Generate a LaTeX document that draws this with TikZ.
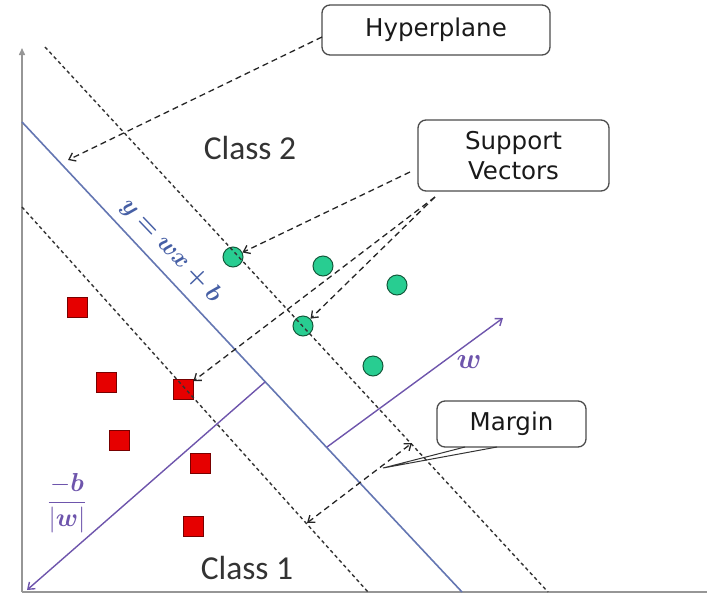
\documentclass[tikz,border=0pt]{standalone}
\usepackage{fontspec}
\usepackage{amsmath,bm,graphicx}
\usetikzlibrary{arrows.meta}
\newfontfamily\boxfont{DejaVu Sans}
\newfontfamily\classfont{Carlito}
\definecolor{hypblue}{RGB}{100,118,178}
\definecolor{hyptext}{RGB}{70,95,165}
\definecolor{purp}{RGB}{110,85,172}
\definecolor{svgreen}{RGB}{40,205,145}
\definecolor{svedge}{RGB}{20,90,60}
\definecolor{sqred}{RGB}{230,0,0}
\definecolor{sqedge}{RGB}{120,0,0}
\definecolor{axisgray}{RGB}{150,150,150}
\tikzset{
  svpt/.style={circle,draw=svedge,fill=svgreen,line width=1pt,minimum size=20pt,inner sep=0pt},
  sqpt/.style={rectangle,draw=sqedge,fill=sqred,line width=0.8pt,minimum size=20pt,inner sep=0pt},
  infobox/.style={draw=black!70,line width=1.3pt,rounded corners=8pt,fill=white,font=\boxfont\fontsize{24.5}{30}\selectfont,text=black!90,align=center,inner sep=0pt},
  marginline/.style={draw=black!80,line width=1.4pt,dash pattern=on 3.5pt off 3pt},
  conn/.style={draw=black!85,line width=1.3pt,dash pattern=on 6pt off 4pt,-{Straight Barb[length=6pt,width=9pt]}},
  purpline/.style={draw=purp,line width=1.4pt},
  classlbl/.style={font=\classfont\fontsize{33.5}{38}\selectfont,text=black!80},
}
\begin{document}
\begin{tikzpicture}[x=1pt,y=-1pt]
\useasboundingbox (0,0) rectangle (707,595);
% axes
\coordinate (O) at (22,592);
\coordinate (Ytop) at (22,48);
\coordinate (Xend) at (707,592);
\draw[axisgray,line width=1.5pt,-{Triangle[length=7pt,width=6pt]}] (O) -- (Ytop);
\draw[axisgray,line width=1.5pt] (O) -- (Xend);
% hyperplane
\coordinate (hpA) at (22,122);
\coordinate (hpB) at (462,592);
\draw[hypblue,line width=1.6pt] (hpA) -- (hpB);
% points
\node[svpt] (c1) at (233,257) {};
\node[svpt] (c2) at (323,266) {};
\node[svpt] (c3) at (397,285) {};
\node[svpt] (c4) at (303,326) {};
\node[svpt] (c5) at (373,366) {};
\node[sqpt] (s1) at (77,307) {};
\node[sqpt] (s2) at (106,382) {};
\node[sqpt] (s3) at (183,389) {};
\node[sqpt] (s4) at (119,440) {};
\node[sqpt] (s5) at (200,463) {};
\node[sqpt] (s6) at (193,526) {};
% margin lines
\coordinate (upA) at (45,47);
\coordinate (upB) at (548,592);
\coordinate (loA) at (22,207);
\coordinate (loB) at (368,592);
\draw[marginline] (upA) -- (upB);
\draw[marginline] (loA) -- (loB);
% purple vectors
\coordinate (h1) at (265,382);
\coordinate (h2) at (327,447);
\coordinate (wt) at (503,318);
\coordinate (ot) at (27,590);
\draw[purpline,-{Straight Barb[length=6pt,width=9pt]}] (h1) -- (ot);
\draw[purpline,-{Straight Barb[length=6pt,width=9pt]}] (h2) -- (wt);
% labels
\node[classlbl] (cl2) at (250,148) {Class 2};
\node[classlbl] (cl1) at (247,568) {Class 1};
\node[text=hyptext,rotate=-46.3,inner sep=0pt] (eq) at (171,251) {\scalebox{2.45}{$\bm{y=wx+b}$}};
\node[text=purp,inner sep=0pt] (wl) at (469,362) {\scalebox{2.9}{$\bm{w}$}};
\node[text=purp,inner sep=0pt] (bl) at (67,503) {\scalebox{2.6}{$\displaystyle\frac{-\bm{b}}{|\bm{w}|}$}};
% boxes
\node[infobox,minimum width=228pt,minimum height=50pt] (hp) at (436,30) {Hyperplane};
\node[infobox,minimum width=191pt,minimum height=71pt] (sv) at (513.5,155.5) {Support\\Vectors};
\node[infobox,minimum width=149pt,minimum height=46pt] (mg) at (511.5,424) {Margin};
% connectors
\coordinate (hpS) at (322,37);
\coordinate (hpT) at (68,160);
\draw[conn] (hpS) -- (hpT);
\coordinate (svA) at (410,172);
\coordinate (svB) at (435,197);
\draw[conn] (svA) -- (c1);
\draw[conn] (svB) -- (c4);
\draw[conn] (svB) -- (s3);
\coordinate (mA) at (307,523);
\coordinate (mB) at (412,443);
\draw[conn,{Straight Barb[length=6pt,width=9pt]}-{Straight Barb[length=6pt,width=9pt]}] (mA) -- (mB);
\coordinate (mP) at (383,468);
\coordinate (mL) at (465,447);
\coordinate (mR) at (497,447);
\draw[black!80,line width=1pt] (mL) -- (mP) -- (mR);
\end{tikzpicture}
\end{document}
